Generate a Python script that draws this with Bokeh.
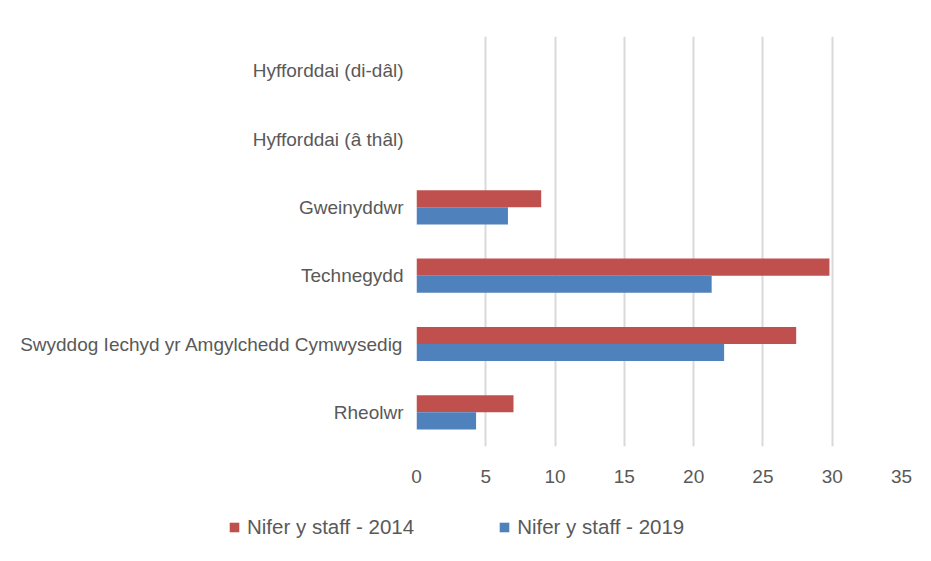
from bokeh.plotting import figure
from bokeh.models import ColumnDataSource, FactorRange, Range1d, Legend, LegendItem
from bokeh.layouts import column
from bokeh.transform import dodge
from bokeh.embed import file_html
from bokeh.resources import INLINE

# Data (categories listed bottom to top)
categories = [
    "Rheolwr",
    "Swyddog Iechyd yr Amgylchedd Cymwysedig",
    "Technegydd",
    "Gweinyddwr",
    "Hyfforddai (â thâl)",
    "Hyfforddai (di-dâl)",
]
staff_2014 = [7.0, 27.4, 29.8, 9.0, 0, 0]
staff_2019 = [4.3, 22.2, 21.3, 6.6, 0, 0]
series_names = ["Nifer y staff - 2014", "Nifer y staff - 2019"]
series_colors = ["#C0504D", "#4F81BD"]
x_ticks = [0, 5, 10, 15, 20, 25, 30, 35]

src = ColumnDataSource(dict(cat=categories, v2014=staff_2014, v2019=staff_2019))

p = figure(
    width=923, height=500,
    y_range=FactorRange(*categories, range_padding=0),
    x_range=Range1d(0, 35),
    output_backend="svg", toolbar_location=None,
    min_border_left=416, min_border_right=22,
    min_border_top=36, min_border_bottom=54,
    frame_align=False,
)
p.outline_line_color = None

p.hbar(y=dodge("cat", 0.125, range=p.y_range), right="v2014", left=0,
       height=0.25, source=src, fill_color=series_colors[0], line_color=None)
p.hbar(y=dodge("cat", -0.125, range=p.y_range), right="v2019", left=0,
       height=0.25, source=src, fill_color=series_colors[1], line_color=None)

p.xaxis.ticker = x_ticks
p.xaxis.axis_line_color = None
p.xaxis.major_tick_line_color = None
p.xaxis.minor_tick_line_color = None
p.xaxis.major_label_text_font = "Liberation Sans"
p.xaxis.major_label_text_font_size = "19px"
p.xaxis.major_label_text_color = "#595959"
p.xaxis.major_label_standoff = 17

p.yaxis.axis_line_color = None
p.yaxis.major_tick_line_color = None
p.yaxis.minor_tick_line_color = None
p.yaxis.major_label_text_font = "Liberation Sans"
p.yaxis.major_label_text_font_size = "19px"
p.yaxis.major_label_text_color = "#595959"
p.yaxis.major_label_standoff = 7

p.xgrid.grid_line_color = "#d9d9d9"
p.xgrid.grid_line_width = 2
p.ygrid.grid_line_color = None

# Legend strip below the chart
p2 = figure(
    width=923, height=53,
    x_range=Range1d(0, 923), y_range=Range1d(0, 53),
    output_backend="svg", toolbar_location=None,
    min_border=0, frame_align=False,
)
p2.axis.visible = False
p2.grid.visible = False
p2.outline_line_color = None
# legend proxies placed outside the visible range
proxy = ColumnDataSource(dict(x=[-500], y=[-500]))
g1 = p2.rect(x="x", y="y", width=1, height=1, source=proxy,
             fill_color=series_colors[0], line_color=None)
g2 = p2.rect(x="x", y="y", width=1, height=1, source=proxy,
             fill_color=series_colors[1], line_color=None)

legend = Legend(
    items=[LegendItem(label=series_names[0], renderers=[g1]),
           LegendItem(label=series_names[1], renderers=[g2])],
    orientation="horizontal",
    location=(228, 14),
    label_text_font="Liberation Sans",
    label_text_font_size="20.5px",
    label_text_color="#595959",
    glyph_width=12, glyph_height=12,
    label_standoff=7, spacing=84,
    padding=0, margin=0,
    border_line_color=None, background_fill_alpha=0,
)
p2.add_layout(legend, "center")

layout = column(p, p2, spacing=0)
open("out.html", "w").write(file_html(layout, INLINE))
